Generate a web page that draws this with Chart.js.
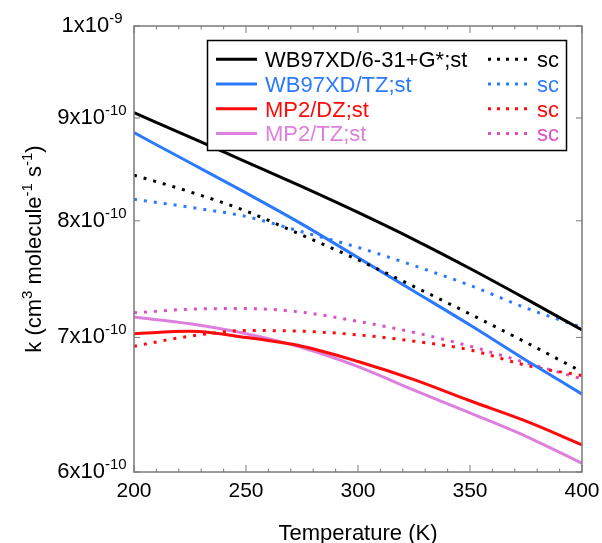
<!DOCTYPE html>
<html>
<head>
<meta charset="utf-8">
<script src="https://cdn.jsdelivr.net/npm/chart.js@4.4.1/dist/chart.umd.min.js"></script>
<style>
  body { margin: 0; background: #fff; }
</style>
</head>
<body>
<canvas id="k_chart" width="602" height="543"></canvas>
<script>
// temperatures (K)
var temps = [200, 225, 250, 275, 300, 325, 350, 375, 400];

// rate constants, in units of 1e-10 cm3 molecule-1 s-1
var wb631St = [9.055, 8.806, 8.559, 8.319, 8.077, 7.83, 7.575, 7.316, 7.06];
var wb631Sc = [8.43, 8.27, 8.09, 7.87, 7.65, 7.42, 7.19, 6.96, 6.73];
var wbTzSt = [8.85, 8.55, 8.26, 7.97, 7.67, 7.38, 7.10, 6.82, 6.56];
var wbTzSc = [8.20, 8.125, 8.04, 7.90, 7.76, 7.60, 7.43, 7.24, 7.08];
var mp2DzSt = [7.03, 7.05, 7.00, 6.93, 6.81, 6.67, 6.51, 6.36, 6.19];
var mp2DzSc = [6.93, 7.01, 7.055, 7.05, 7.02, 6.97, 6.90, 6.78, 6.70];
var mp2TzSt = [7.165, 7.11, 7.03, 6.92, 6.77, 6.59, 6.42, 6.25, 6.06];
var mp2TzSc = [7.20, 7.23, 7.235, 7.205, 7.13, 7.04, 6.93, 6.80, 6.675];

var stLabels = ['WB97XD/6-31+G*;st', 'WB97XD/TZ;st', 'MP2/DZ;st', 'MP2/TZ;st'];
var scLabel = 'sc';

var xTicks = [200, 250, 300, 350, 400];
var yTicks = [6, 7, 8, 9, 10];
var yTickBase = ['6x10', '7x10', '8x10', '9x10', '1x10'];
var yTickExp = ['-10', '-10', '-10', '-10', '-9'];

var stColours = ['#000000', '#2b79ff', '#ff0a0a', '#dd80dd'];
var scColours = ['#000000', '#2b79ff', '#ff0a0a', '#dd4fc4'];

var FONT = '"Liberation Sans", Arial, Helvetica, sans-serif';

function pts(vals) {
  return temps.map(function (t, i) { return { x: t, y: vals[i] }; });
}

var stSeries = [wb631St, wbTzSt, mp2DzSt, mp2TzSt];
var scSeries = [wb631Sc, wbTzSc, mp2DzSc, mp2TzSc];

var datasets = [];
for (var i = 0; i < 4; i++) {
  datasets.push({
    label: stLabels[i],
    data: pts(stSeries[i]),
    borderColor: stColours[i],
    borderWidth: 3,
    pointRadius: 0,
    fill: false,
    cubicInterpolationMode: 'monotone'
  });
  datasets.push({
    label: scLabel,
    data: pts(scSeries[i]),
    borderColor: scColours[i],
    borderWidth: 3,
    borderDash: [3, 7],
    borderCapStyle: 'butt',
    pointRadius: 0,
    fill: false,
    cubicInterpolationMode: 'monotone'
  });
}

// draws text made of [string, isSuperscript] pieces
function richText(ctx, parts, x, y, align, size, supSize, raise) {
  var w = 0;
  parts.forEach(function (p) {
    ctx.font = (p[1] ? supSize : size) + 'px ' + FONT;
    w += ctx.measureText(p[0]).width;
  });
  var cx = align === 'center' ? x - w / 2 : x;
  ctx.textAlign = 'left';
  ctx.textBaseline = 'alphabetic';
  parts.forEach(function (p) {
    ctx.font = (p[1] ? supSize : size) + 'px ' + FONT;
    ctx.fillText(p[0], cx, p[1] ? y - raise : y);
    cx += ctx.measureText(p[0]).width;
  });
}

var decorations = {
  id: 'decorations',
  afterDatasetsDraw: function (chart) {
    var ctx = chart.ctx;
    var a = chart.chartArea;
    var xs = chart.scales.x, ys = chart.scales.y;
    ctx.save();

    // frame
    ctx.strokeStyle = '#7a7a7a';
    ctx.lineWidth = 1.5;
    ctx.strokeRect(a.left, a.top, a.right - a.left, a.bottom - a.top);

    // ticks, inward on all sides
    ctx.beginPath();
    for (var t = 200; t <= 400; t += 10) {
      var px = xs.getPixelForValue(t);
      var len = (t % 50 === 0) ? 7 : 3.5;
      ctx.moveTo(px, a.bottom); ctx.lineTo(px, a.bottom - len);
      ctx.moveTo(px, a.top); ctx.lineTo(px, a.top + len);
    }
    yTicks.forEach(function (v) {
      var py = ys.getPixelForValue(v);
      ctx.moveTo(a.left, py); ctx.lineTo(a.left + 6, py);
      ctx.moveTo(a.right, py); ctx.lineTo(a.right - 6, py);
    });
    ctx.lineWidth = 1;
    ctx.stroke();

    ctx.fillStyle = '#000';
    // x tick labels
    ctx.font = '21px ' + FONT;
    ctx.textAlign = 'center';
    ctx.textBaseline = 'alphabetic';
    xTicks.forEach(function (v) {
      ctx.fillText(String(v), xs.getPixelForValue(v), 497);
    });
    // x title
    ctx.font = '22px ' + FONT;
    ctx.fillText('Temperature (K)', (a.left + a.right) / 2, 540);

    // y tick labels
    yTicks.forEach(function (v, i) {
      var py = ys.getPixelForValue(v);
      richText(ctx, [[yTickBase[i], false], [yTickExp[i], true]], 92, py + 6, 'center', 22, 15, 9);
    });

    // y title
    ctx.save();
    ctx.translate(41, (a.top + a.bottom) / 2);
    ctx.rotate(-Math.PI / 2);
    richText(ctx, [['k (cm', false], ['3', true], [' molecule', false], ['-1', true],
      [' s', false], ['-1', true], [')', false]], 0, 0, 'center', 22, 15, 9);
    ctx.restore();

    // legend
    var lx = 207.5, ly = 40.5, lw = 359, lh = 110;
    ctx.fillStyle = '#fff';
    ctx.fillRect(lx, ly, lw, lh);
    ctx.strokeStyle = '#000';
    ctx.lineWidth = 1.5;
    ctx.strokeRect(lx, ly, lw, lh);
    for (var r = 0; r < 4; r++) {
      var ry = 59.3 + r * 24.7;
      ctx.lineWidth = 3;
      ctx.setLineDash([]);
      ctx.strokeStyle = stColours[r];
      ctx.beginPath(); ctx.moveTo(216, ry); ctx.lineTo(257, ry); ctx.stroke();
      ctx.strokeStyle = scColours[r];
      ctx.setLineDash([3, 6]);
      ctx.beginPath(); ctx.moveTo(488, ry); ctx.lineTo(531, ry); ctx.stroke();
      ctx.setLineDash([]);
      ctx.font = '22px ' + FONT;
      ctx.textAlign = 'left';
      ctx.textBaseline = 'alphabetic';
      ctx.fillStyle = stColours[r];
      ctx.fillText(stLabels[r], 265, ry + 8);
      ctx.fillStyle = scColours[r];
      ctx.fillText(scLabel, 537, ry + 8);
    }
    ctx.restore();
  }
};

var kChart = new Chart(document.getElementById('k_chart'), {
  type: 'line',
  data: { datasets: datasets },
  options: {
    responsive: false,
    animation: false,
    layout: { padding: { top: 26, right: 20, left: 0, bottom: 0 } },
    plugins: { legend: { display: false }, tooltip: { enabled: false } },
    scales: {
      x: {
        type: 'linear', min: 200, max: 400,
        ticks: { display: false }, grid: { display: false }, border: { display: false },
        afterFit: function (s) { s.height = 71; }
      },
      y: {
        type: 'logarithmic', min: 6, max: 10,
        ticks: { display: false }, grid: { display: false }, border: { display: false },
        afterFit: function (s) { s.width = 134; }
      }
    }
  },
  plugins: [decorations]
});
</script>
</body>
</html>
